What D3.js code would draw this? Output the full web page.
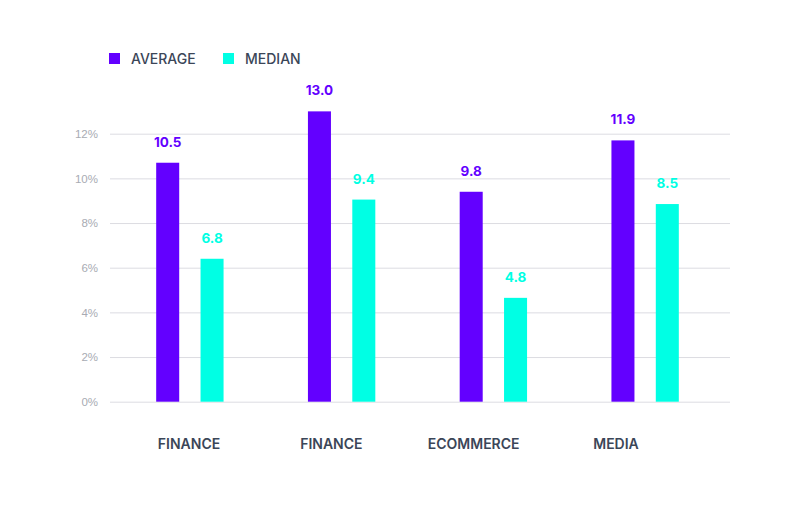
<!DOCTYPE html>
<html><head><meta charset="utf-8">
<script src="https://cdn.jsdelivr.net/npm/d3@7"></script>
<style>
html,body{margin:0;padding:0;background:#fff;}
svg{display:block;font-family:Inter,"Noto Sans",sans-serif;}
</style></head>
<body>
<svg id="chart" width="800" height="510"></svg>
<script>
const categories = ["FINANCE", "FINANCE", "ECOMMERCE", "MEDIA"];
const seriesNames = ["AVERAGE", "MEDIAN"];
const averageValues = [10.7, 13.0, 9.4, 11.7];
const medianValues = [6.4, 9.05, 4.65, 8.85];
const averageLabels = ["10.5", "13.0", "9.8", "11.9"];
const medianLabels = ["6.8", "9.4", "4.8", "8.5"];
const yTicks = [0, 2, 4, 6, 8, 10, 12];

const colors = ["#6300ff", "#00ffe4"];
const svg = d3.select("#chart");

const y = d3.scaleLinear().domain([0, 12]).range([401.7, 133.7]);
const x0 = d3.scaleBand().domain(d3.range(categories.length))
  .range([114, 721]).paddingInner(0.556).paddingOuter(0.278);
const x1 = d3.scaleBand().domain([0, 1]).range([0, x0.bandwidth()]).paddingInner(0.481);
const xLabel = d3.scalePoint().domain(d3.range(categories.length)).range([189, 616]);

// grid
const yAxis = d3.axisLeft(y).tickValues(yTicks).tickFormat(d => d + "%")
  .tickSize(-620).tickPadding(12);
const gy = svg.append("g").attr("transform", "translate(110,0)").call(yAxis);
gy.select(".domain").remove();
gy.selectAll(".tick line").attr("stroke", "#dcdce2").attr("stroke-width", 1);
gy.selectAll(".tick text").attr("fill", "#a8abb3").attr("font-size", 11.5).attr("dx", 0);

const series = [
  {values: averageValues, labels: averageLabels},
  {values: medianValues, labels: medianLabels}
];

const groups = svg.append("g").selectAll("g").data(categories).join("g")
  .attr("transform", (d, i) => `translate(${x0(i)},0)`);

series.forEach((s, si) => {
  groups.append("rect")
    .attr("x", x1(si))
    .attr("width", x1.bandwidth())
    .attr("y", (d, i) => y(s.values[i]))
    .attr("height", (d, i) => y(0) - y(s.values[i]))
    .attr("fill", colors[si]);
  groups.append("text")
    .attr("x", x1(si) + x1.bandwidth() / 2)
    .attr("y", (d, i) => y(s.values[i]) - 16)
    .attr("text-anchor", "middle")
    .attr("font-size", 13.5)
    .attr("font-weight", 700)
    .attr("fill", colors[si])
    .text((d, i) => s.labels[i]);
});

// category labels
svg.append("g").selectAll("text").data(categories).join("text")
  .attr("x", (d, i) => xLabel(i))
  .attr("y", 449)
  .attr("text-anchor", "middle")
  .attr("font-size", 14)
  .attr("font-weight", 600)
  .attr("fill", "#3b4658")
  .text(d => d);

// legend
const legendX = [109, 223];
const lg = svg.append("g").selectAll("g").data(seriesNames).join("g")
  .attr("transform", (d, i) => `translate(${legendX[i]},53)`);
lg.append("rect").attr("width", 11).attr("height", 11).attr("fill", (d, i) => colors[i]);
lg.append("text").attr("x", 22).attr("y", 10.5)
  .attr("font-size", 14).attr("font-weight", 500).attr("fill", "#3b4658")
  .text(d => d);
</script>
</body></html>
